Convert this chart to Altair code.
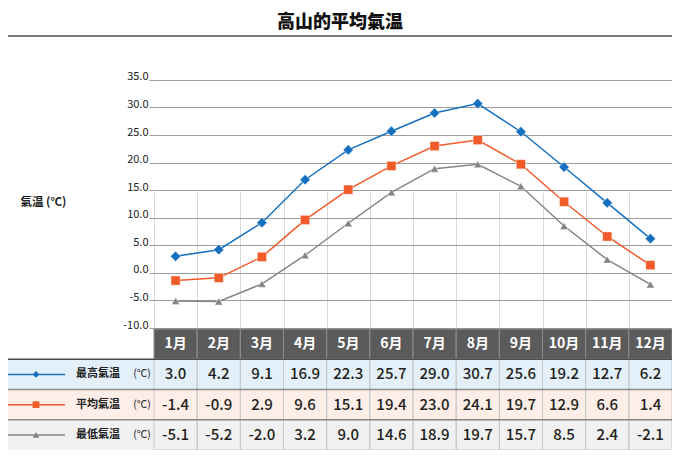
import altair as alt
import pandas as pd

title_text = "高山的平均氣温"
axis_title = "氣温 (℃)"
unit_text = "(℃)"
months = ["1月", "2月", "3月", "4月", "5月", "6月", "7月", "8月", "9月", "10月", "11月", "12月"]
series_names = ["最高氣温", "平均氣温", "最低氣温"]
high_temp = [3.0, 4.2, 9.1, 16.9, 22.3, 25.7, 29.0, 30.7, 25.6, 19.2, 12.7, 6.2]
mean_temp = [-1.4, -0.9, 2.9, 9.6, 15.1, 19.4, 23.0, 24.1, 19.7, 12.9, 6.6, 1.4]
low_temp = [-5.1, -5.2, -2.0, 3.2, 9.0, 14.6, 18.9, 19.7, 15.7, 8.5, 2.4, -2.1]
y_ticks = [-10, -5, 0, 5, 10, 15, 20, 25, 30, 35]
header_key = "header"

line_colors = ["#1570bf", "#f15a29", "#848484"]
row_fills = ["#e4f0f9", "#fdeee8", "#f1f1f1"]
marker_shapes = ["diamond", "square", "triangle-up"]
marker_sizes = [105, 64, 115]

FONT = "Noto Sans CJK JP"
W, H = 518, 380
LEFT = 146
TEMP_BOTTOM = 258
TABLE_TOP = 259
HYPHEN_EXPR = "replace(format(datum.value, '.1f'), '\u2212', '-')"

rows = []
for name, vals in zip(series_names, [high_temp, mean_temp, low_temp]):
    for m, v in zip(months, vals):
        rows.append({"month": m, "series": name, "row": name, "value": v})
temps = pd.DataFrame(rows)
legend_df = pd.DataFrame({"series": series_names, "row": series_names})
header_df = pd.DataFrame({"month": months, "row": [header_key] * len(months)})
one_df = pd.DataFrame({"k": [0]})

month_scale = alt.Scale(type="band", domain=months, paddingInner=0, paddingOuter=0)
x_axis = alt.Axis(grid=True, tickBand="extent", labels=False, ticks=False, domain=False,
                  title=None, gridColor="#d9d9d9", gridWidth=1)


def X(bp=None):
    kw = dict(scale=month_scale, axis=x_axis, sort=months)
    if bp is not None:
        kw["bandPosition"] = bp
    return alt.X("month:N", **kw)


temp_scale = alt.Scale(domain=[-10, 36.8], range=[TEMP_BOTTOM, 0], nice=False, zero=False)
temp_axis = alt.Axis(values=y_ticks, labelExpr=HYPHEN_EXPR, grid=True, gridColor="#9d9d9d", gridWidth=1,
                     tickSize=5, tickColor="#9d9d9d", tickWidth=1, domain=False, labelPadding=1,
                     labelFontSize=11, labelColor="#222222", labelBaseline="alphabetic",
                     labelFlush=False, labelOverlap=False, title=axis_title, titleAngle=0,
                     titleAlign="left", titleBaseline="middle", titleX=-134, titleY=132,
                     titleFontSize=11.5, titleFontWeight="bold", titleColor="#222222")
color_scale = alt.Scale(domain=series_names, range=line_colors)
shape_scale = alt.Scale(domain=series_names, range=marker_shapes)
size_scale = alt.Scale(domain=series_names, range=marker_sizes)

Ytemp = alt.Y("value:Q", scale=temp_scale, axis=temp_axis)
Col = alt.Color("series:N", scale=color_scale, legend=None)
Shp = alt.Shape("series:N", scale=shape_scale, legend=None)

lines = alt.Chart(temps).mark_line(strokeWidth=1.5).encode(x=X(0.5), y=Ytemp, color=Col, detail="series:N")
points = alt.Chart(temps).mark_point(filled=True, opacity=1, stroke="white", strokeWidth=0.6,
                                     strokeOpacity=0.7).encode(
    x=X(0.5), y=Ytemp, color=Col, shape=Shp,
    size=alt.Size("series:N", scale=size_scale, legend=None))
temp_group = alt.layer(lines, points)

row_domain = [header_key] + series_names
row_scale = alt.Scale(type="band", domain=row_domain, range=[TABLE_TOP, H], paddingInner=0, paddingOuter=0)


def Yrow(bp=None):
    kw = dict(scale=row_scale, axis=None)
    if bp is not None:
        kw["bandPosition"] = bp
    return alt.Y("row:N", **kw)


row_bg = alt.Chart(legend_df).mark_rect().encode(
    x=alt.value(-LEFT), x2=alt.value(W), y=Yrow(),
    fill=alt.Fill("row:N", scale=alt.Scale(domain=series_names, range=row_fills), legend=None))
data_cells = alt.Chart(temps).mark_rect(fillOpacity=0, stroke="#c6c9cc", strokeWidth=1).encode(x=X(), y=Yrow())
header_cells = alt.Chart(header_df).mark_rect(fill="#5b5b5b", stroke="#8e8e8e", strokeWidth=1).encode(x=X(), y=Yrow())
header_text = alt.Chart(header_df).mark_text(color="white", fontSize=14, fontWeight="bold",
                                             baseline="middle").encode(x=X(0.5), y=Yrow(0.5), text="month:N")
value_text = alt.Chart(temps).transform_calculate(label=HYPHEN_EXPR).mark_text(
    fontSize=15, color="#231f20", fontWeight=500, baseline="middle").encode(
    x=X(0.5), y=Yrow(0.5), text="label:N")
sep_top = alt.Chart(legend_df).transform_filter(alt.datum.row == series_names[0]).mark_rule(
    color="#4d4d4d", strokeWidth=1.5).encode(x=alt.value(-LEFT), x2=alt.value(W), y=Yrow(0))
sep_mid = alt.Chart(legend_df).transform_filter(alt.datum.row != series_names[0]).mark_rule(
    color="#8a8a8a", strokeWidth=1.5).encode(x=alt.value(-LEFT), x2=alt.value(W), y=Yrow(0))
sym_line = alt.Chart(legend_df).mark_rule(strokeWidth=1.5).encode(
    x=alt.value(-LEFT), x2=alt.value(-89), y=Yrow(0.5), color=Col)
sym_point = alt.Chart(legend_df).mark_point(filled=True, opacity=1, size=45).encode(
    x=alt.value(-118), y=Yrow(0.5), color=Col, shape=Shp)
names = alt.Chart(legend_df).mark_text(align="left", baseline="middle", fontSize=11, fontWeight="bold",
                                       color="#222222").encode(x=alt.value(-78), y=Yrow(0.5), text="series:N")
units = alt.Chart(legend_df).mark_text(align="center", baseline="middle", fontSize=10.5, color="#222222",
                                       text=unit_text).encode(x=alt.value(-12), y=Yrow(0.5))
title_rule = alt.Chart(one_df).mark_rule(color="#4d4d4d", strokeWidth=1.5).encode(
    x=alt.value(-LEFT), x2=alt.value(W), y=alt.value(-34))
title_mark = alt.Chart(one_df).mark_text(text=title_text, fontSize=18, fontWeight=900, color="#111111",
                                         align="center", baseline="middle").encode(
    x=alt.value((W - LEFT) / 2), y=alt.value(-47))

table_group = alt.layer(row_bg, header_cells, data_cells, sep_top, sep_mid, header_text, value_text,
                        sym_line, sym_point, names, units, title_rule, title_mark)

chart = alt.layer(temp_group, table_group).resolve_scale(y="independent").properties(
    width=W, height=H,
    autosize=alt.AutoSizeParams(type="none"),
    padding={"left": LEFT, "top": 62, "right": 0, "bottom": 0},
).configure(font=FONT).configure_view(stroke=None)

chart.save("out.html", embed_options={"renderer": "svg", "actions": False})
